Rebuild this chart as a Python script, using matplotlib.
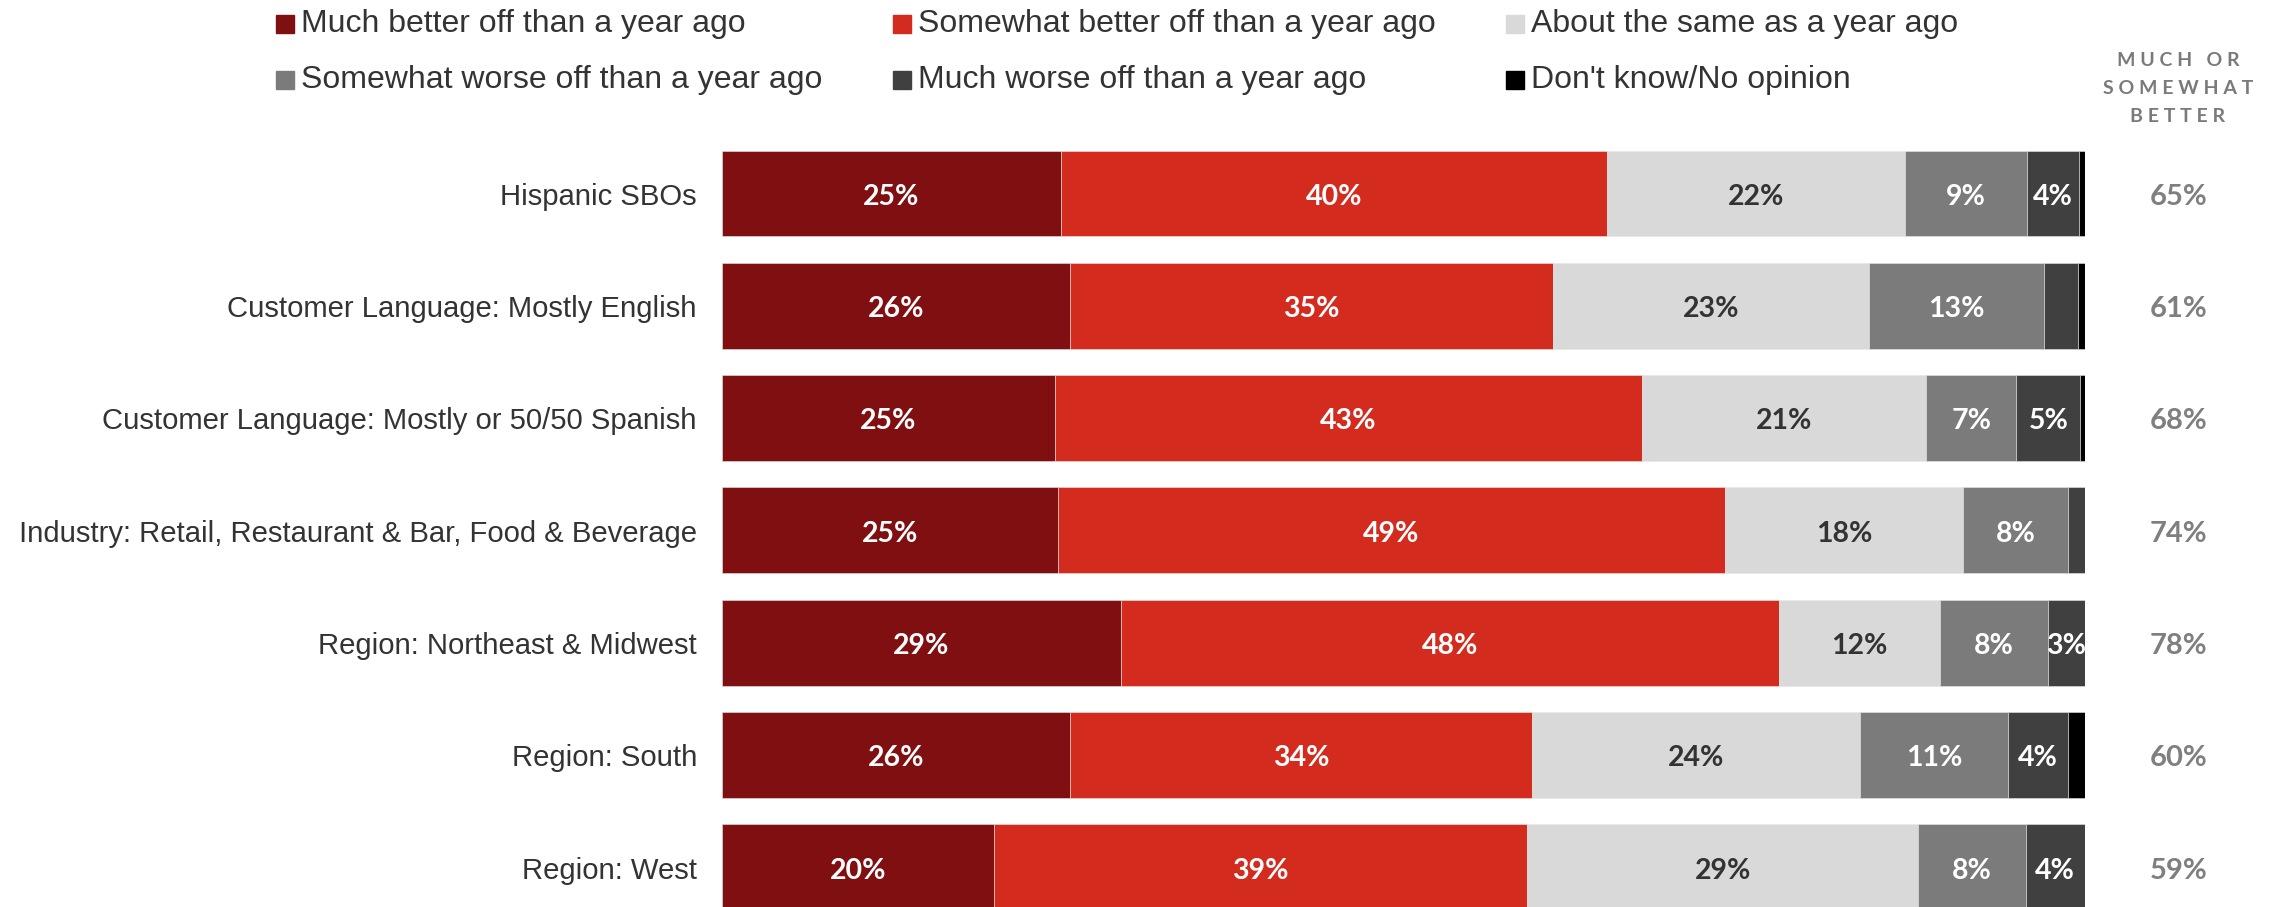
import numpy as np
import matplotlib.pyplot as plt
from matplotlib.patches import Rectangle

# categories (top to bottom)
categorias = [
    'Hispanic SBOs',
    'Customer Language: Mostly English',
    'Customer Language: Mostly or 50/50 Spanish',
    'Industry: Retail, Restaurant & Bar, Food & Beverage',
    'Region: Northeast & Midwest',
    'Region: South',
    'Region: West',
]

series = [
    'Much better off than a year ago',
    'Somewhat better off than a year ago',
    'About the same as a year ago',
    'Somewhat worse off than a year ago',
    'Much worse off than a year ago',
    "Don't know/No opinion",
]
cores = ['#7f0f11', '#d42b1f', '#d9d9d9', '#7b7b7b', '#404040', '#000000']

# shares (percent)
much_better = [24.9, 25.6, 24.5, 24.7, 29.3, 25.6, 20.0]
somewhat_better = [40.1, 35.4, 43.0, 48.9, 48.3, 33.9, 39.1]
same = [21.8, 23.2, 20.9, 17.5, 11.8, 24.0, 28.7]
somewhat_worse = [9.0, 12.8, 6.6, 7.7, 7.9, 10.9, 7.9]
much_worse = [3.8, 2.5, 4.7, 1.2, 2.7, 4.4, 4.3]
dont_know = [0.4, 0.5, 0.3, 0.0, 0.0, 1.2, 0.0]

# printed labels (None = no label on the segment)
rotulos = [
    [25, 40, 22, 9, 4, None],
    [26, 35, 23, 13, None, None],
    [25, 43, 21, 7, 5, None],
    [25, 49, 18, 8, None, None],
    [29, 48, 12, 8, 3, None],
    [26, 34, 24, 11, 4, None],
    [20, 39, 29, 8, 4, None],
]
total_melhor = [65, 61, 68, 74, 78, 60, 59]

valores = np.array([much_better, somewhat_better, same,
                    somewhat_worse, much_worse, dont_know])
valores = valores / valores.sum(axis=0) * 100

W, H = 2281, 907
fig = plt.figure(figsize=(W / 100, H / 100), dpi=100)
ax = fig.add_axes([721.5 / W, 0, 1363 / W, 1])

y = np.arange(len(categorias))
dy = 0.03  # small nudge so text sits on the bar centre like the original
esquerda = np.zeros(len(categorias))
for s in range(len(series)):
    ax.barh(y, valores[s], left=esquerda, height=0.765, color=cores[s],
            edgecolor='#e6e6e6', linewidth=0.4)
    for i in range(len(categorias)):
        r = rotulos[i][s]
        if r is not None:
            cor_txt = '#333333' if s == 2 else 'white'
            ax.text(esquerda[i] + valores[s][i] / 2, y[i] + dy, f'{r}%',
                    ha='center', va='center', color=cor_txt,
                    fontsize=20.5, fontweight='bold', family='Lato')
    esquerda += valores[s]

for i in range(len(categorias)):
    ax.text(-1.8, y[i] + dy, categorias[i], ha='right', va='center',
            fontsize=21.1, color='#333333', family='Liberation Sans')
    ax.text(106.9, y[i] + dy, f'{total_melhor[i]}%', ha='center', va='center',
            fontsize=21, fontweight='bold', color='#7f7f7f', family='Lato')

ax.set_xlim(0, 100)
ax.set_ylim((H - 193.5) / 112.3, -193.5 / 112.3)
ax.axis('off')

# legend
leg_x = [276, 893, 1506]
leg_y = [24, 80]
for k, nome in enumerate(series):
    cx = leg_x[k % 3]
    cy = leg_y[k // 3]
    fig.patches.append(Rectangle((cx / W, 1 - (cy + 9) / H), 18 / W, 18 / H,
                                 color=cores[k], transform=fig.transFigure))
    fig.text((cx + 25) / W, 1 - cy / H, nome, ha='left', va='center',
             fontsize=23, color='#333333', family='Liberation Sans')

# header of right column
for j, linha in enumerate(['M U C H   O R', 'S O M E W H A T', 'B E T T E R']):
    fig.text(2178 / W, 1 - (61 + 27.5 * j) / H, linha, ha='center', va='center',
             fontsize=14, fontweight='bold', color='#7a7a7a', family='Lato')

fig.savefig('out.png', dpi=100, facecolor='white')
